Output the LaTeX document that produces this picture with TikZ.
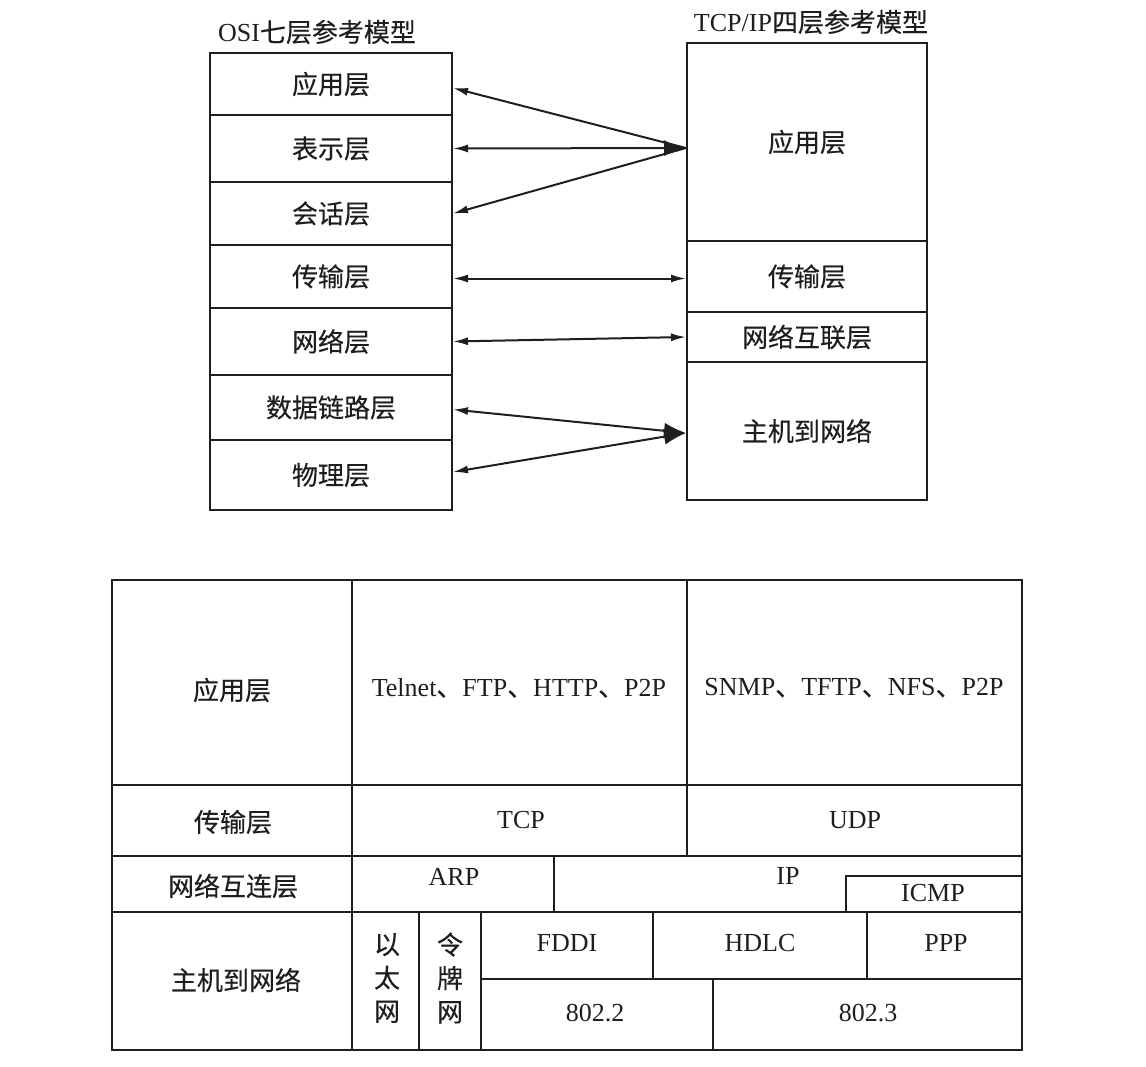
\documentclass[tikz,border=0pt]{standalone}
\usepackage{fontspec}
\setmainfont{Liberation Serif}
\newfontfamily\cjk[FakeBold=0.3]{Noto Sans CJK SC}
\usetikzlibrary{arrows.meta,positioning}
\definecolor{Ink}{HTML}{1E1E1E}
\tikzset{
  layer/.style={draw=Ink, line width=1pt, minimum width=121pt, inner sep=0pt,
    text=Ink, font=\fontsize{13}{15}\selectfont\cjk},
  lab/.style={text=Ink, font=\fontsize{13}{15}\selectfont, inner sep=0pt},
  link/.style={Ink, line width=1pt},
  grid/.style={Ink, line width=1.1pt},
  tipS/.tip={Latex[length=7.5pt,width=4pt]},
  tipL/.tip={Latex[length=11pt,width=8pt]},
}

\begin{document}
\begin{tikzpicture}[x=0.5pt,y=-0.5pt]
  \useasboundingbox (0,0) rectangle (1146,1066);
  % OSI seven layers
  \node[lab] (osi-title) at (317,32) {OSI{\cjk 七层参考模型}};
  \foreach \nm/\ya/\yb/\txt in {app/53/115/应用层, pre/115/182/表示层, ses/182/245/会话层,
      tra/245/308/传输层, net/308/375/网络层, dl/375/440/数据链路层, phy/440/510/物理层} {
    \node[layer, minimum height={(\yb-\ya)*0.5pt}] (osi-\nm) at (331,{(\ya+\yb)/2}) {\txt};
  }
  % TCP/IP four layers
  \node[lab] (tcp-title) at (811,22) {TCP/IP{\cjk 四层参考模型}};
  \foreach \nm/\ya/\yb/\txt in {app/43/241/应用层, tra/241/312/传输层,
      net/312/362/网络互联层, host/362/500/主机到网络} {
    \node[layer, minimum width=120pt, minimum height={(\yb-\ya)*0.5pt}] (tcp-\nm) at (807,{(\ya+\yb)/2}) {\txt};
  }
  \coordinate (hub-app) at ([yshift=-3pt]tcp-app.west);
  \coordinate (hub-host) at ([yshift=-1pt]tcp-host.west);
  % mapping
  \draw[link, tipS-] ([yshift=-2pt]osi-app.east) -- (hub-app);
  \draw[link, tipS-tipL] (osi-pre.east) -- (hub-app);
  \draw[link, tipS-] (osi-ses.east) -- (hub-app);
  \draw[link, tipS-tipS] ([yshift=-1pt]osi-tra.east) -- ([yshift=-1pt]tcp-tra.west);
  \draw[link, tipS-tipS] (osi-net.east) -- (tcp-net.west);
  \draw[link, tipS-tipL] ([yshift=-1pt]osi-dl.east) -- (hub-host);
  \draw[link, tipS-tipL] ([yshift=1.5pt]osi-phy.east) -- (hub-host);

  % protocol table
  \draw[grid] (112,580) rectangle (1022,1050);
  \draw[grid] (112,785) -- (1022,785) (112,856) -- (1022,856)
    (112,912) -- (1022,912) (481,979) -- (1022,979);
  \draw[grid] (352,580) -- (352,1050) (687,580) -- (687,856)
    (554,856) -- (554,912) (846,912) -- (846,876) -- (1022,876)
    (419,912) -- (419,1050) (481,912) -- (481,1050)
    (653,912) -- (653,979) (867,912) -- (867,979) (713,979) -- (713,1050);
  \foreach \nm/\x/\y/\txt in {rapp/232/690/应用层, rtra/233/822/传输层,
      rnet/233/886/网络互连层, rhost/236/980/主机到网络} {
    \node[lab, font=\fontsize{13}{15}\selectfont\cjk] (\nm) at (\x,\y) {\txt};
  }
  \foreach \nm/\x/\y/\txt in {tcp/521/820/TCP, udp/855/820/UDP, arp/454/877/ARP,
      ip/788/876/IP, icmp/933/893/ICMP, fddi/567/943/FDDI, hdlc/760/943/HDLC,
      ppp/946/943/PPP, ieee2/595/1013/802.2, ieee3/868/1013/802.3} {
    \node[lab] (p-\nm) at (\x,\y) {\txt};
  }
  \node[lab] (p-apptcp) at (519,688) {Telnet{\cjk 、}FTP{\cjk 、}HTTP{\cjk 、}P2P};
  \node[lab] (p-appudp) at (854,688) {SNMP{\cjk 、}TFTP{\cjk 、}NFS{\cjk 、}P2P};
  \node[lab, align=center, font=\fontsize{13}{16.75}\selectfont\cjk] (p-eth) at (387,978) {以\\太\\网};
  \node[lab, align=center, font=\fontsize{13}{16.75}\selectfont\cjk] (p-token) at (450,978) {令\\牌\\网};
\end{tikzpicture}
\end{document}
